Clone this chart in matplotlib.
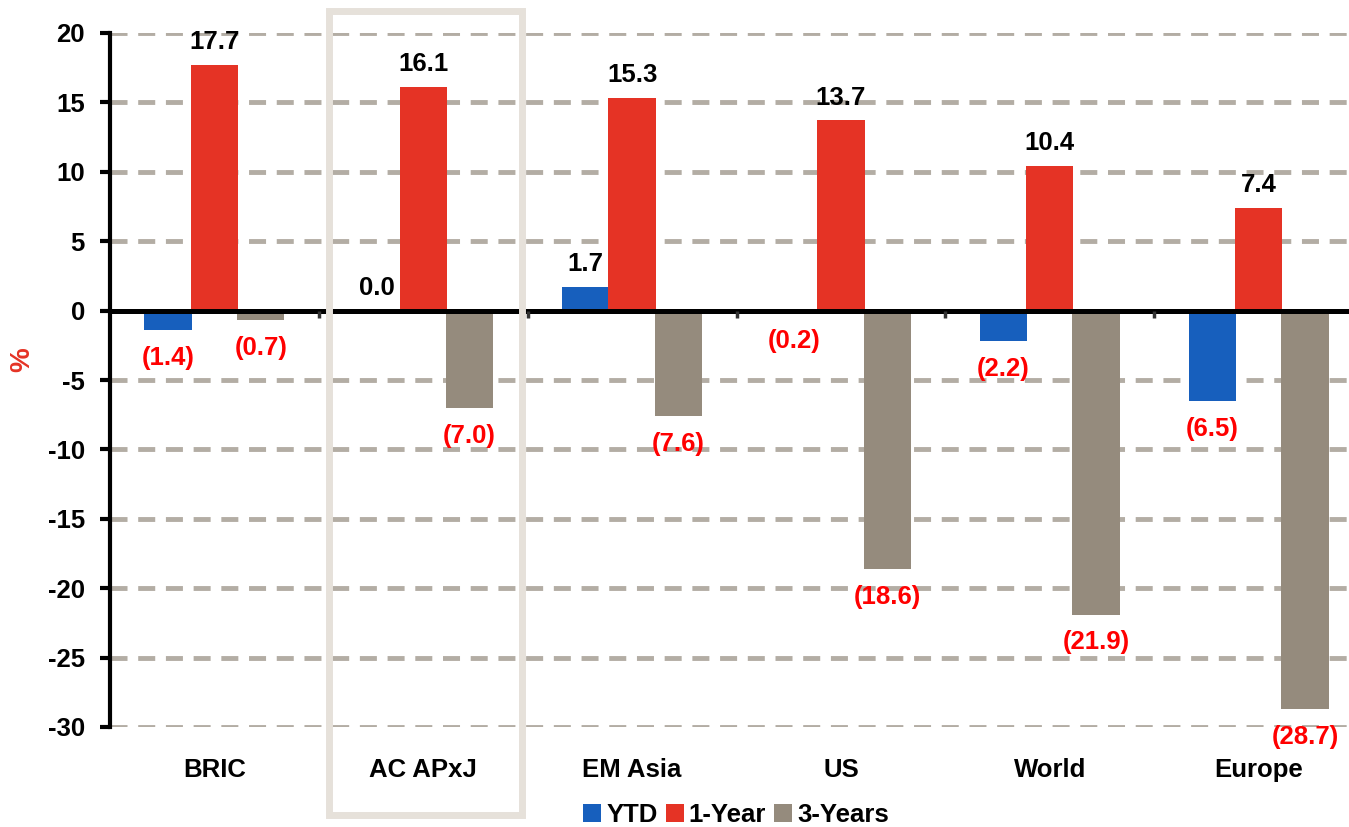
import matplotlib
matplotlib.use("Agg")
import matplotlib.pyplot as plt
from matplotlib.patches import Rectangle
import numpy as np

plt.rcParams['font.family'] = ['Liberation Sans', 'DejaVu Sans']
plt.rcParams['font.weight'] = 'bold'

# Regional equity returns (%)
categories = ["BRIC", "AC APxJ", "EM Asia", "US", "World", "Europe"]
series_names = ["YTD", "1-Year", "3-Years"]
ytd = [-1.4, 0.0, 1.7, -0.2, -2.2, -6.5]
one_year = [17.7, 16.1, 15.3, 13.7, 10.4, 7.4]
three_years = [-0.7, -7.0, -7.6, -18.6, -21.9, -28.7]
y_ticks = [20, 15, 10, 5, 0, -5, -10, -15, -20, -25, -30]

colors = ["#175fbd", "#e53325", "#958b7d"]
W, H = 1349, 827
FS = 18.5

fig = plt.figure(figsize=(W / 100, H / 100), dpi=100)
left_px, right_px, top_px, bottom_px = 110, 1363, 33, 727
ax = fig.add_axes([left_px / W, 1 - bottom_px / H,
                   (right_px - left_px) / W, (bottom_px - top_px) / H])

x = np.arange(len(categories)) + 0.5
bar_w = 0.227
offsets = [-0.222, 0.0, 0.222]
all_series = [ytd, one_year, three_years]

for vals, off, col, name in zip(all_series, offsets, colors, series_names):
    ax.bar(x + off, vals, width=bar_w, color=col, label=name, zorder=3)
    for xi, v in zip(x + off, vals):
        if v >= 0:
            ax.annotate(f"{v:.1f}", (xi, v), xytext=(0, 16.5), textcoords="offset points",
                        ha="center", va="center", fontsize=FS, fontweight="bold",
                        color="black", zorder=5)
        else:
            ax.annotate(f"({abs(v):.1f})", (xi, v), xytext=(0, -20), textcoords="offset points",
                        ha="center", va="center", fontsize=FS, fontweight="bold",
                        color="#ff0000", zorder=5)

ax.set_xlim(0, len(categories))
ax.set_ylim(-30, 20)
ax.set_yticks(y_ticks)
ax.set_yticklabels([str(t) for t in y_ticks])
ax.tick_params(axis="y", direction="out", length=7, width=3, pad=11,
               labelsize=FS, color="black")
for lab in ax.get_yticklabels():
    lab.set_fontweight("bold")
ax.set_xticks([])

# dashed horizontal grid
for t in y_ticks:
    if t != 0:
        ax.axhline(t, color="#b3ada4", lw=3.5, dashes=(3.5, 2.2), zorder=1)

for s in ["top", "right", "bottom"]:
    ax.spines[s].set_visible(False)
ax.spines["left"].set_linewidth(3)
ax.spines["left"].set_zorder(4)

# zero line with small boundary ticks
ax.axhline(0, color="black", lw=3.6, zorder=4)
ax.vlines(np.arange(1, len(categories)), -0.55, 0, color="#333333", lw=2.5, zorder=4)

# category labels
for xi, c in zip(x, categories):
    ax.text(xi, -33.1, c, ha="center", va="center", fontsize=FS,
            fontweight="bold", clip_on=False)

fig.text(22 / W, 1 - 360 / H, "%", rotation=90, color="#e53325",
         fontsize=20, fontweight="bold", ha="center", va="center")

leg = fig.legend(loc="center", bbox_to_anchor=(736 / W, 1 - 815 / H), ncol=3,
                 frameon=False, handlelength=0.7, handleheight=0.7,
                 handletextpad=0.2, columnspacing=0.3, fontsize=FS,
                 borderaxespad=0, borderpad=0)
for t in leg.get_texts():
    t.set_fontweight("bold")

# highlight box around AC APxJ
box = Rectangle((329 / W, 1 - 815 / H), (522 - 329) / W, (815 - 11) / H,
                transform=fig.transFigure, fill=False, edgecolor="#e6e1da",
                lw=5, zorder=10)
fig.add_artist(box)

fig.savefig("out.png", dpi=100)
